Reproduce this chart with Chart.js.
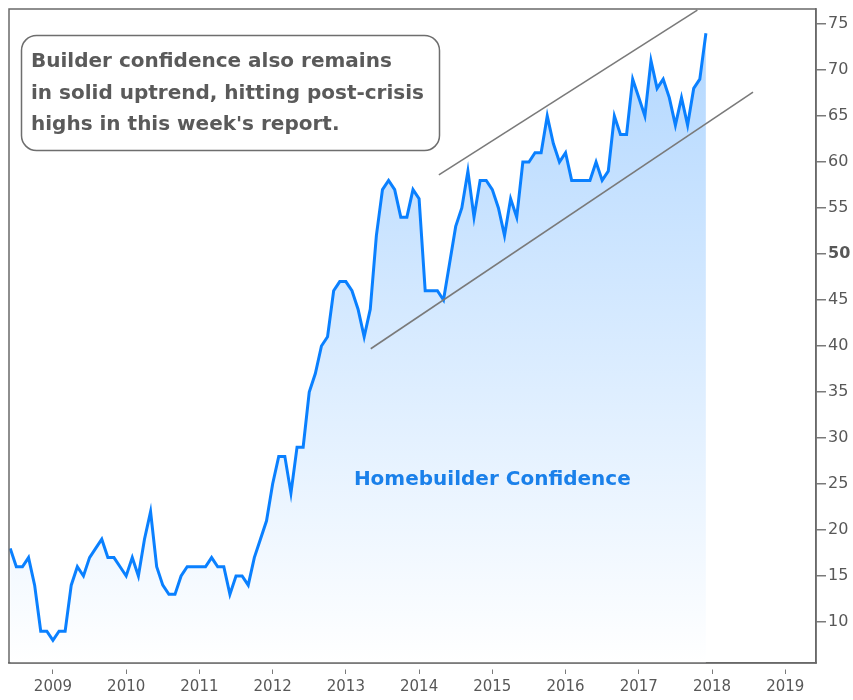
<!DOCTYPE html>
<html>
<head>
<meta charset="utf-8">
<script src="https://cdn.jsdelivr.net/npm/chart.js@4.4.1/dist/chart.umd.min.js"></script>
<style>
  html, body { margin: 0; padding: 0; background: #ffffff; }
  #wrap { width: 853px; height: 700px; }
</style>
</head>
<body>
<div id="wrap"><canvas id="c" width="853" height="700"></canvas></div>
<script>
// ---- Data (NAHB Homebuilder Confidence, monthly, Jun 2008 .. Dec 2017) ----
const seriesStartYear = 2008;
const seriesStartMonth = 6;
const confidence2008 = [18, 16, 16, 17, 14, 9, 9];
const confidence2009 = [8, 9, 9, 14, 16, 15, 17, 18, 19, 17, 17, 16];
const confidence2010 = [15, 17, 15, 19, 22, 16, 14, 13, 13, 15, 16, 16];
const confidence2011 = [16, 16, 17, 16, 16, 13, 15, 15, 14, 17, 19, 21];
const confidence2012 = [25, 28, 28, 24, 29, 29, 35, 37, 40, 41, 46, 47];
const confidence2013 = [47, 46, 44, 41, 44, 52, 57, 58, 57, 54, 54, 57];
const confidence2014 = [56, 46, 46, 46, 45, 49, 53, 55, 59, 54, 58, 58];
const confidence2015 = [57, 55, 52, 56, 54, 60, 60, 61, 61, 65, 62, 60];
const confidence2016 = [61, 58, 58, 58, 58, 60, 58, 59, 65, 63, 63, 69];
const confidence2017 = [67, 65, 71, 68, 69, 67, 64, 67, 64, 68, 69, 74];

// Trend channel lines (start/end in data units: decimal year, index value)
const upperTrendX = [2014.27, 2017.80];
const upperTrendY = [58.6, 76.5];
const lowerTrendX = [2013.34, 2018.56];
const lowerTrendY = [39.7, 67.6];

// Tick labels
const yearTicks = [2009, 2010, 2011, 2012, 2013, 2014, 2015, 2016, 2017, 2018, 2019];
const valueTicks = [10, 15, 20, 25, 30, 35, 40, 45, 50, 55, 60, 65, 70, 75];

// Texts
const seriesLabel = 'Homebuilder Confidence';
const noteLines = [
  'Builder confidence also remains',
  'in solid uptrend, hitting post-crisis',
  "highs in this week's report."
];

// ---- Build datasets ----
const allValues = [].concat(confidence2008, confidence2009, confidence2010, confidence2011,
  confidence2012, confidence2013, confidence2014, confidence2015, confidence2016, confidence2017);
const seriesPoints = allValues.map((v, i) => ({
  x: seriesStartYear + (seriesStartMonth - 1 + i) / 12,
  y: v
}));
const upperPoints = upperTrendX.map((x, i) => ({ x, y: upperTrendY[i] }));
const lowerPoints = lowerTrendX.map((x, i) => ({ x, y: lowerTrendY[i] }));

const FONT = "'DejaVu Sans', Verdana, sans-serif";

const decorPlugin = {
  id: 'decor',
  afterDatasetsDraw(chart) {
    const ctx = chart.ctx;
    const xs = chart.scales.x, ys = chart.scales.y;
    ctx.save();
    // series label
    ctx.fillStyle = '#1a80ea';
    ctx.font = 'bold 20px ' + FONT;
    ctx.textAlign = 'center';
    ctx.textBaseline = 'middle';
    ctx.fillText(seriesLabel, xs.getPixelForValue(2015.0), ys.getPixelForValue(25.5));

    // note box
    const bx = 21.5, by = 35.5, bw = 418, bh = 115, r = 15;
    ctx.beginPath();
    ctx.moveTo(bx + r, by);
    ctx.lineTo(bx + bw - r, by);
    ctx.arcTo(bx + bw, by, bx + bw, by + r, r);
    ctx.lineTo(bx + bw, by + bh - r);
    ctx.arcTo(bx + bw, by + bh, bx + bw - r, by + bh, r);
    ctx.lineTo(bx + r, by + bh);
    ctx.arcTo(bx, by + bh, bx, by + bh - r, r);
    ctx.lineTo(bx, by + r);
    ctx.arcTo(bx, by, bx + r, by, r);
    ctx.closePath();
    ctx.fillStyle = '#ffffff';
    ctx.fill();
    ctx.strokeStyle = '#6e6e6e';
    ctx.lineWidth = 1.5;
    ctx.stroke();

    ctx.fillStyle = '#5a5a5a';
    ctx.font = 'bold 20px ' + FONT;
    ctx.textAlign = 'left';
    ctx.textBaseline = 'alphabetic';
    const baselines = [67, 98.5, 130];
    noteLines.forEach((t, i) => ctx.fillText(t, 31, baselines[i]));

    // plot frame
    const a = chart.chartArea;
    ctx.strokeStyle = '#6a6a6a';
    ctx.lineWidth = 1.5;
    ctx.strokeRect(a.left, a.top, a.right - a.left, a.bottom - a.top);
    ctx.restore();
  }
};

const ctx = document.getElementById('c').getContext('2d');
new Chart(ctx, {
  type: 'line',
  data: {
    datasets: [
      {
        label: 'upper',
        data: upperPoints,
        borderColor: '#7a7a7a',
        borderWidth: 1.6,
        pointRadius: 0,
        fill: false,
        order: 0
      },
      {
        label: 'lower',
        data: lowerPoints,
        borderColor: '#7a7a7a',
        borderWidth: 1.6,
        pointRadius: 0,
        fill: false,
        order: 0
      },
      {
        label: seriesLabel,
        data: seriesPoints,
        borderColor: '#0a80ff',
        borderWidth: 3,
        pointRadius: 0,
        tension: 0,
        fill: 'start',
        order: 1,
        backgroundColor: (c) => {
          const area = c.chart.chartArea;
          if (!area) return 'rgba(190,220,255,0.5)';
          const g = c.chart.ctx.createLinearGradient(0, area.top, 0, area.bottom);
          g.addColorStop(0, 'rgb(176,214,255)');
          g.addColorStop(1, 'rgb(255,255,255)');
          return g;
        }
      }
    ]
  },
  options: {
    responsive: false,
    animation: false,
    devicePixelRatio: 1,
    parsing: true,
    layout: { padding: { left: 9, top: 9, right: 0, bottom: 0 } },
    plugins: {
      legend: { display: false },
      tooltip: { enabled: false },
      title: { display: false }
    },
    scales: {
      x: {
        type: 'linear',
        position: 'bottom',
        min: 2008.40,
        max: 2019.42,
        afterBuildTicks: (s) => { s.ticks = yearTicks.map(v => ({ value: v })); },
        afterFit: (s) => { s.height = 37; s.paddingLeft = 0; s.paddingRight = 0; },
        grid: {
          drawOnChartArea: false,
          drawTicks: true,
          tickLength: 11,
          color: '#7a7a7a',
          lineWidth: 1,
          tickBorderDash: [0, 6, 5, 40]
        },
        border: { display: true, color: '#6a6a6a', width: 1.5 },
        ticks: {
          padding: 4,
          color: '#585858',
          font: { family: FONT, size: 15 },
          maxRotation: 0,
          autoSkip: false,
          callback: (v) => String(v)
        }
      },
      y: {
        type: 'linear',
        position: 'right',
        min: 5.54,
        max: 76.63,
        afterBuildTicks: (s) => { s.ticks = valueTicks.map(v => ({ value: v })); },
        afterFit: (s) => { s.width = 37; s.paddingTop = 0; s.paddingBottom = 0; },
        grid: {
          drawOnChartArea: false,
          drawTicks: true,
          tickLength: 10,
          color: '#7a7a7a',
          lineWidth: 1.5
        },
        border: { display: true, color: '#6a6a6a', width: 1.5 },
        ticks: {
          padding: 2,
          color: '#585858',
          autoSkip: false,
          font: (c) => ({
            family: FONT,
            size: 16,
            weight: (c.tick && c.tick.value === 50) ? 'bold' : 'normal'
          }),
          callback: (v) => String(v)
        }
      }
    }
  },
  plugins: [decorPlugin]
});
</script>
</body>
</html>
